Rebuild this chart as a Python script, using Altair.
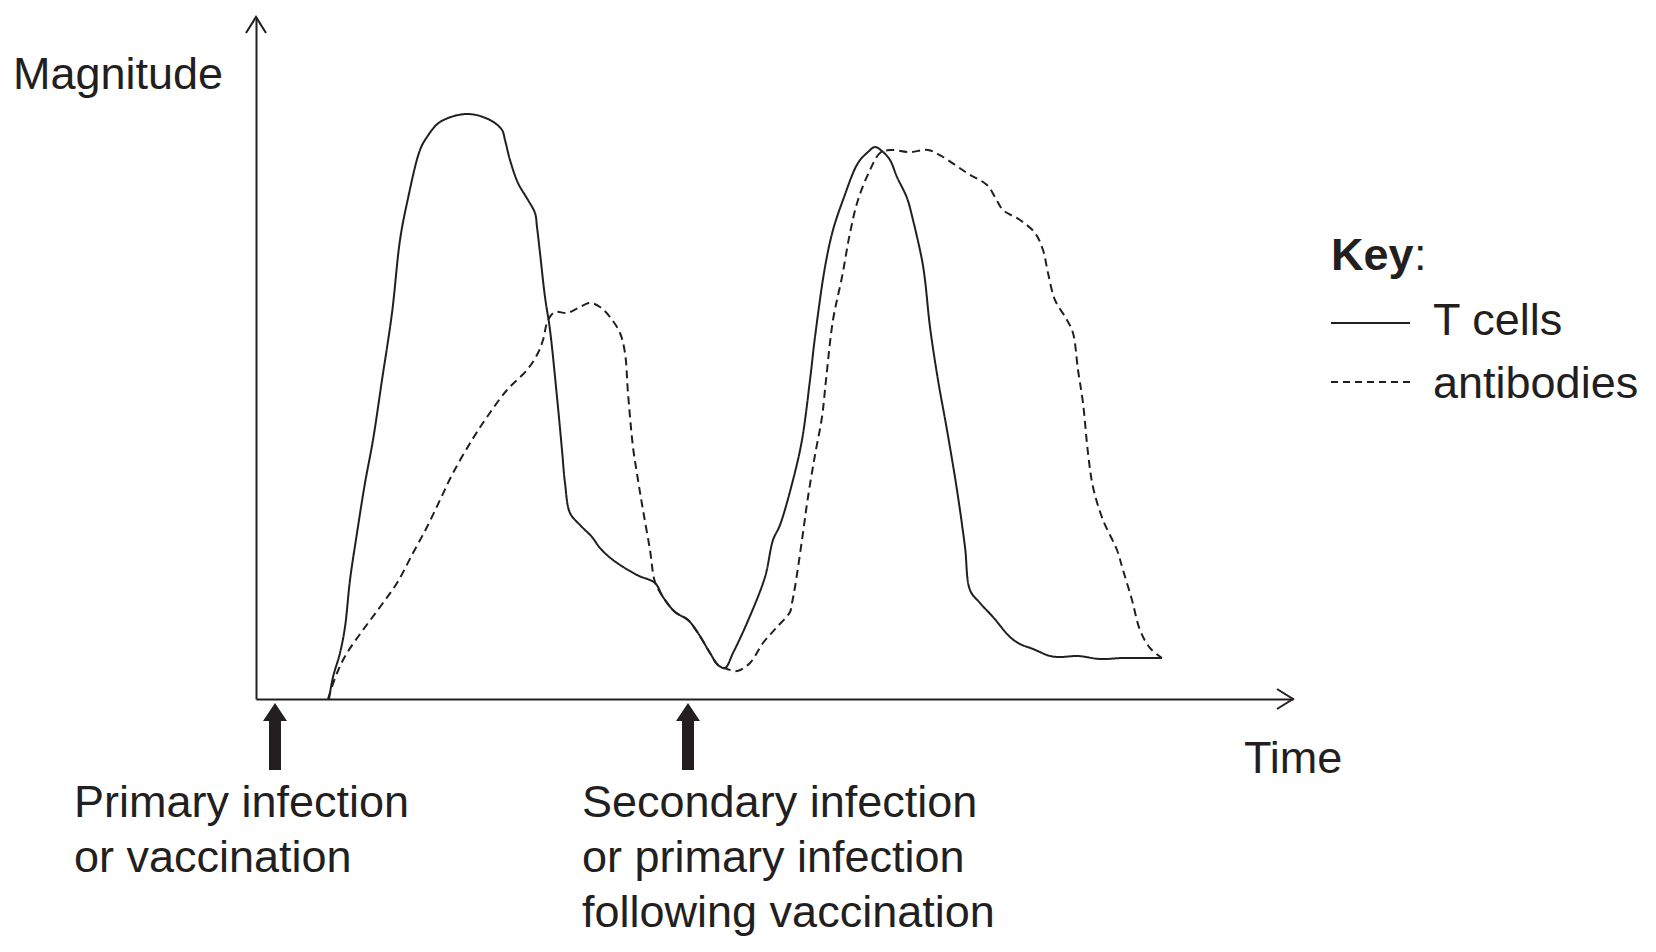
import altair as alt
import pandas as pd

# ---- data (time, magnitude in arbitrary units) ----
t_cells_time = [73, 77, 84, 89, 94, 101, 109, 117, 126, 136, 144, 151, 164, 171, 184, 211, 234, 246, 249, 254,
                262, 272, 279, 281, 284, 289, 294, 301, 306, 309, 314, 324, 336, 344, 357, 381, 399, 407, 419, 432,
                442, 454, 462, 469, 477, 491, 509, 517, 524, 537, 546, 554, 559, 569, 577, 587, 602, 612, 619, 627,
                634, 641, 651, 657, 666, 669, 674, 682, 691, 701, 709, 714, 724, 737, 754, 764, 777, 794, 804, 822,
                844, 867, 906]
t_cells_mag = [0, 22, 46, 72, 119, 166, 216, 259, 319, 386, 459, 496, 549, 562, 577, 585, 579, 569, 559, 539,
               516, 499, 486, 472, 446, 402, 369, 302, 249, 216, 186, 174, 162, 151, 139, 124, 116, 102, 87, 79,
               66, 46, 34, 31, 46, 76, 122, 159, 174, 219, 259, 319, 362, 432, 469, 499, 536, 547, 552, 547,
               539, 522, 501, 479, 439, 419, 372, 319, 269, 209, 152, 109, 96, 82, 62, 55, 50, 43, 42, 43,
               40, 41, 41]

antibody_time = [72, 81, 91, 107, 124, 141, 157, 171, 184, 197, 216, 231, 251, 271, 282, 287, 292, 299, 311, 322,
                 334, 344, 354, 364, 369, 372, 377, 382, 387, 394, 399, 407, 419, 432, 442, 454, 462, 471, 481, 494,
                 507, 521, 534, 536, 539, 546, 552, 559, 566, 570, 577, 586, 594, 602, 614, 624, 634, 654, 672, 687,
                 711, 731, 739, 747, 764, 779, 787, 792, 799, 811, 817, 822, 827, 832, 837, 847, 861, 867, 876, 884,
                 894, 906]
antibody_mag = [0, 26, 46, 69, 92, 116, 146, 172, 199, 226, 259, 282, 309, 329, 346, 359, 379, 387, 386, 391,
                396, 392, 382, 366, 346, 306, 252, 219, 189, 149, 117, 102, 87, 79, 66, 46, 34, 30, 28, 36,
                56, 72, 87, 96, 112, 159, 202, 244, 282, 319, 379, 422, 466, 499, 529, 546, 549, 547, 549, 542,
                526, 514, 502, 489, 479, 466, 449, 426, 399, 379, 366, 329, 296, 246, 212, 179, 149, 129, 99, 69,
                51, 41]

series_names = ["T cells", "antibodies"]
event_times = [19, 432]

X_MAX = 1037
Y_MAX = 682
INK = "#231f20"
FONT = "Liberation Sans"
FS = 45

rows = []
for i, (t, m) in enumerate(zip(t_cells_time, t_cells_mag)):
    rows.append({"time": t, "magnitude": m, "series": series_names[0], "order": i})
for i, (t, m) in enumerate(zip(antibody_time, antibody_mag)):
    rows.append({"time": t, "magnitude": m, "series": series_names[1], "order": i})
curves = pd.DataFrame(rows)
events = pd.DataFrame({"time": event_times})
one = alt.Data(values=[{}])

xscale = alt.Scale(domain=[0, X_MAX], nice=False, zero=False)
yscale = alt.Scale(domain=[0, Y_MAX], nice=False, zero=False)
ax = dict(domain=True, domainColor=INK, domainWidth=2, ticks=False, labels=False,
          grid=False, title=None)

lines = alt.Chart(curves).mark_line(interpolate="catmull-rom", strokeWidth=2, color=INK).encode(
    x=alt.X("time:Q", scale=xscale, axis=alt.Axis(**ax)),
    y=alt.Y("magnitude:Q", scale=yscale, axis=alt.Axis(**ax)),
    strokeDash=alt.StrokeDash("series:N", scale=alt.Scale(domain=series_names, range=[[1, 0], [8, 5]]),
                              legend=None),
    detail="series:N",
    order="order:Q",
)

# axis arrowheads (open chevrons)
y_head = alt.Chart(one).mark_point(shape="M-0.625,1L0,0L0.625,1", size=1024, filled=False,
                                   stroke=INK, strokeWidth=2, opacity=1).encode(
    x=alt.value(0), y=alt.value(0))
x_head = alt.Chart(one).mark_point(shape="M-1,-0.625L0,0L-1,0.625", size=1024, filled=False,
                                   stroke=INK, strokeWidth=2, opacity=1).encode(
    x=alt.value(X_MAX), y=alt.value(Y_MAX))

# event arrows below the time axis
arrow_path = "M0,-1L0.358,-0.463L0.179,-0.463L0.179,1L-0.179,1L-0.179,-0.463L-0.358,-0.463Z"
ev = alt.Chart(events).mark_point(shape=arrow_path, size=4489, filled=True, fill=INK,
                                  strokeWidth=0, opacity=1).encode(
    x=alt.X("time:Q", scale=xscale), y=alt.value(719.5))


def txt(text, x, y, weight="normal", align="left"):
    return alt.Chart(one).mark_text(text=text, font=FONT, fontSize=FS, fontWeight=weight, color=INK,
                                    align=align, baseline="alphabetic", lineHeight=55).encode(
        x=alt.value(x), y=alt.value(y))


texts = [
    txt("Magnitude", -243, 72),
    txt("Time", 988, 756),
    txt(["Primary infection", "or vaccination"], -182, 800),
    txt(["Secondary infection", "or primary infection", "following vaccination"], 326, 800),
    txt("Key", 1075, 253, weight="bold"),
    txt(":", 1158, 253),
    txt("T cells", 1177, 318),
    txt("antibodies", 1177, 381),
]

leg_solid = alt.Chart(one).mark_rule(color=INK, strokeWidth=1.8).encode(
    x=alt.value(1075), x2=alt.value(1154), y=alt.value(306))
leg_dash = alt.Chart(one).mark_rule(color=INK, strokeWidth=1.8, strokeDash=[7, 5]).encode(
    x=alt.value(1075), x2=alt.value(1154), y=alt.value(365))

chart = alt.layer(lines, y_head, x_head, ev, leg_solid, leg_dash, *texts).properties(
    width=X_MAX, height=Y_MAX,
    padding={"left": 256, "top": 17, "right": 1656 - 256 - X_MAX, "bottom": 952 - 17 - Y_MAX},
    autosize=alt.AutoSizeParams(type="none"),
    background="white",
).configure_view(stroke=None)

chart.save("out.html", embed_options={"renderer": "svg", "actions": False})
